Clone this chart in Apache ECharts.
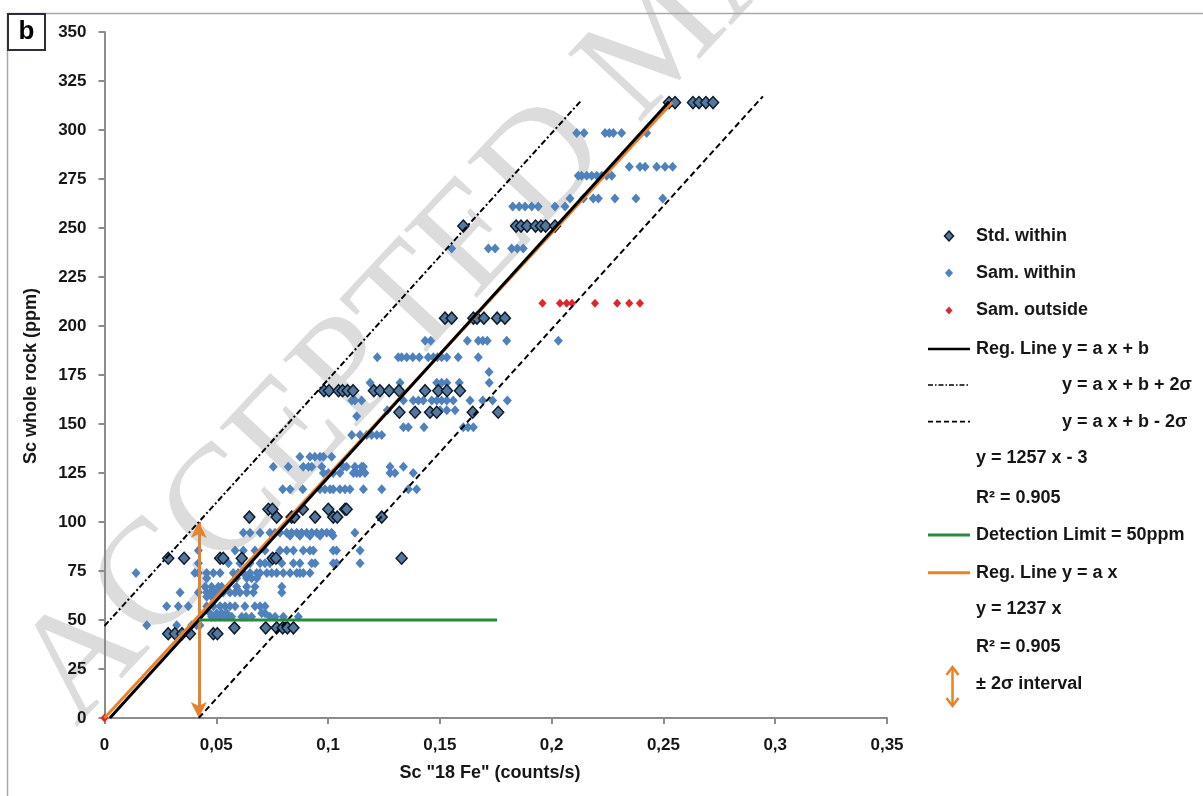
<!DOCTYPE html>
<html>
<head>
<meta charset="utf-8">
<script src="https://cdn.jsdelivr.net/npm/echarts@6/dist/echarts.min.js"></script>
<style>
  html, body { margin: 0; padding: 0; background: #ffffff; }
  #chart { width: 1203px; height: 796px; }
</style>
</head>
<body>
<div id="chart"></div>
<script>
// ---- calibration values (Sc whole rock vs Sc "18 Fe" counts) ----
const xTickStep = 0.05;
const yTickStep = 25;

// Standards within the 2-sigma band: rows of [ppm, counts/s values]
const stdRows = [
  [314, [0.2525, 0.2552, 0.2632, 0.2659, 0.2690, 0.2722]],
  [251, [0.1605, 0.1841, 0.1863, 0.1890, 0.1928, 0.1952, 0.1973, 0.2015]],
  [204, [0.1523, 0.1553, 0.1650, 0.1666, 0.1697, 0.1756, 0.1791]],
  [167, [0.0982, 0.1004, 0.1047, 0.1065, 0.1087, 0.1112, 0.1205, 0.1232, 0.1273, 0.1317, 0.1434, 0.1493, 0.1532, 0.1590]],
  [156, [0.1319, 0.1389, 0.1456, 0.1486, 0.1647, 0.1761]],
  [106.5, [0.0733, 0.0751, 0.0887, 0.1001, 0.1076, 0.1083]],
  [102.5, [0.0648, 0.0770, 0.0837, 0.0849, 0.0942, 0.1023, 0.1041, 0.1240]],
  [81.5, [0.0285, 0.0356, 0.0517, 0.0531, 0.0614, 0.0752, 0.0767, 0.1329]],
  [46, [0.0581, 0.0721, 0.0770, 0.0797, 0.0818, 0.0845]],
  [43, [0.0285, 0.0315, 0.0347, 0.0382, 0.0487, 0.0505]]
];

// Samples within the band
const samRows = [
  [298.5, [0.2112, 0.2145, 0.2239, 0.2258, 0.2276, 0.2313, 0.2425]],
  [281.3, [0.2347, 0.2395, 0.2418, 0.2470, 0.2507, 0.2541]],
  [276.7, [0.2119, 0.2134, 0.2157, 0.2179, 0.2202, 0.2224, 0.2246, 0.2269]],
  [265, [0.2082, 0.2142, 0.2186, 0.2209, 0.2283, 0.2377, 0.2497]],
  [261, [0.1826, 0.1855, 0.1881, 0.1911, 0.1940, 0.2015, 0.2060]],
  [239.6, [0.1553, 0.1717, 0.1747, 0.1821, 0.1846, 0.1873]],
  [192.5, [0.1434, 0.1459, 0.1623, 0.1672, 0.1692, 0.1712, 0.1799, 0.2030]],
  [184, [0.1220, 0.1314, 0.1329, 0.1352, 0.1379, 0.1408, 0.1448, 0.1471, 0.1489, 0.1508, 0.1531, 0.1582, 0.1672]],
  [176.5, [0.1720]],
  [171, [0.1188, 0.1322, 0.1486, 0.1508, 0.1531, 0.1587, 0.1721]],
  [162, [0.1106, 0.1120, 0.1150, 0.1337, 0.1381, 0.1404, 0.1426, 0.1464, 0.1486, 0.1508, 0.1531, 0.1560, 0.1635, 0.1692, 0.1736, 0.1802]],
  [157, [0.1265, 0.1501, 0.1531, 0.1568]],
  [154, [0.1128]],
  [148.3, [0.1337, 0.1359, 0.1429, 0.1605, 0.1626, 0.1650]],
  [144.4, [0.1106, 0.1143, 0.1173, 0.1195, 0.1218, 0.1240]],
  [133.3, [0.0874, 0.0919, 0.0941, 0.0964, 0.0979, 0.1016]],
  [128.2, [0.0755, 0.0822, 0.0889, 0.0912, 0.0927, 0.0972, 0.1068, 0.1083, 0.1120, 0.1150, 0.1158, 0.1277, 0.1337]],
  [125, [0.0979, 0.1001, 0.1023, 0.1053, 0.1113, 0.1128, 0.1143, 0.1165, 0.1277, 0.1299, 0.1381]],
  [116.7, [0.0797, 0.0830, 0.0887, 0.0964, 0.0986, 0.1009, 0.1023, 0.1053, 0.1076, 0.1098, 0.1158, 0.1240, 0.1359, 0.1396]],
  [94.5, [0.0621, 0.0651, 0.0696, 0.0740, 0.0763, 0.0785, 0.0815, 0.0837, 0.0860, 0.0882, 0.0904, 0.0927, 0.0949, 0.0972, 0.0994, 0.1016, 0.1120]],
  [93, [0.0830, 0.0874, 0.0919, 0.0964, 0.1022]],
  [85.5, [0.0420, 0.0584, 0.0621, 0.0673, 0.0718, 0.0785, 0.0815, 0.0845, 0.0889, 0.0919, 0.0934, 0.1023, 0.1038, 0.1143]],
  [78.9, [0.0420, 0.0554, 0.0606, 0.0651, 0.0696, 0.0718, 0.0740, 0.0793, 0.0845, 0.0874, 0.0927, 0.0942, 0.1023, 0.1038, 0.1143]],
  [74, [0.0141, 0.0404, 0.0420, 0.0457, 0.0487, 0.0517, 0.0576, 0.0598, 0.0621, 0.0651, 0.0681, 0.0696, 0.0726, 0.0748, 0.0770, 0.0800, 0.0830, 0.0860, 0.0874, 0.0889, 0.0919]],
  [71.3, [0.0457, 0.0591, 0.0636, 0.0658, 0.0681]],
  [67, [0.0450, 0.0479, 0.0509, 0.0524, 0.0591, 0.0636, 0.0673, 0.0793]],
  [64, [0.0338, 0.0420, 0.0457, 0.0472, 0.0494, 0.0517, 0.0531, 0.0561, 0.0584, 0.0606, 0.0636, 0.0666, 0.0793]],
  [61.9, [0.0457, 0.0479, 0.0502]],
  [57, [0.0278, 0.0330, 0.0375, 0.0457, 0.0487, 0.0517, 0.0539, 0.0561, 0.0584, 0.0628, 0.0673, 0.0696, 0.0718]],
  [53.4, [0.0472, 0.0502, 0.0524, 0.0547, 0.0703, 0.0718]],
  [51.7, [0.0479, 0.0494, 0.0517, 0.0539, 0.0554, 0.0569, 0.0614, 0.0633, 0.0658, 0.0740, 0.0763, 0.0800, 0.0867]],
  [47.3, [0.0189, 0.0323, 0.0390, 0.0412, 0.0427]]
];

// Samples outside the band
const outRows = [
  [211.6, [0.1959, 0.2037, 0.2067, 0.2091, 0.2194, 0.2293, 0.2347, 0.2395]],
  [0, [0]]
];

// Regression y = a x + b, its +/- 2 sigma band, the origin fit and the detection limit
const regA = 1257, regB = -3, twoSigma = 50;
const originA = 1237;
const detectionLimit = 50;
const regSpan = [0.0024, 0.2525];
const upperSpan = [0, 0.2135];
const lowerSpan = [0.0422, 0.2945];
const originSpan = [0, 0.254];
const detectionSpan = [0.0422, 0.1756];

const toPoints = rows => rows.flatMap(([y, xs]) => xs.map(x => [x, y]));
const linePts = (span, a, b) => span.map(x => [x, a * x + b]);
const intervalX = (detectionLimit - regB) / regA;

const FONT = '"Liberation Sans", Arial, Helvetica, sans-serif';
const TXT = '#161616';

// ---- legend built from plain shapes and text ----
const lgX = 976, lgMark = 949, lgL0 = 928, lgL1 = 970;
const rows = { std: 236, sam: 273, out: 310.5, reg: 349, up: 385, low: 421.7, eq1: 458.3, r1: 498.3,
               det: 535, org: 572.7, eq2: 609.3, r2: 646.7, arr: 684 };
const diamond = (cx, cy, w, h) => [[cx, cy - h / 2], [cx + w / 2, cy], [cx, cy + h / 2], [cx - w / 2, cy]];
const lgText = (x, y, t) => ({ type: 'text', x, y, z: 100,
  style: { text: t, fill: TXT, font: 'bold 18px ' + FONT, textVerticalAlign: 'middle', textAlign: 'left' } });
const lgLine = (y, color, width, dash) => ({ type: 'line', z: 100,
  shape: { x1: lgL0, y1: y, x2: lgL1, y2: y },
  style: { stroke: color, lineWidth: width, lineDash: dash || null } });

const legend = [
  { type: 'polygon', z: 100, shape: { points: diamond(lgMark, rows.std, 9, 10) }, style: { fill: '#56779d', stroke: '#0d1b2a', lineWidth: 1.5 } },
  lgText(lgX, rows.std, 'Std. within'),
  { type: 'polygon', z: 100, shape: { points: diamond(lgMark, rows.sam, 8, 9) }, style: { fill: '#4f81bd' } },
  lgText(lgX, rows.sam, 'Sam. within'),
  { type: 'polygon', z: 100, shape: { points: diamond(lgMark, rows.out, 7, 8) }, style: { fill: '#e0262c' } },
  lgText(lgX, rows.out, 'Sam. outside'),
  lgLine(rows.reg, '#000000', 2.5),
  lgText(lgX, rows.reg, 'Reg. Line y = a x + b'),
  lgLine(rows.up, '#000000', 1.6, [5, 2, 1.5, 2]),
  lgText(1062, rows.up, 'y = a x + b + 2σ'),
  lgLine(rows.low, '#000000', 1.8, [5, 3]),
  lgText(1062, rows.low, 'y = a x + b - 2σ'),
  lgText(lgX, rows.eq1, 'y = 1257 x - 3'),
  lgText(lgX, rows.r1, 'R² = 0.905'),
  lgLine(rows.det, '#2a8a3e', 3),
  lgText(lgX, rows.det, 'Detection Limit = 50ppm'),
  lgLine(rows.org, '#e8822a', 3),
  lgText(lgX, rows.org, 'Reg. Line y = a x'),
  lgText(lgX, rows.eq2, 'y = 1237 x'),
  lgText(lgX, rows.r2, 'R² = 0.905'),
  { type: 'line', z: 100, shape: { x1: 952.5, y1: 668, x2: 952.5, y2: 705 }, style: { stroke: '#e8822a', lineWidth: 2.5 } },
  { type: 'polyline', z: 100, shape: { points: [[946.5, 675], [952.5, 667], [958.5, 675]] }, style: { stroke: '#e8822a', lineWidth: 2.5, fill: null } },
  { type: 'polyline', z: 100, shape: { points: [[946.5, 698], [952.5, 706], [958.5, 698]] }, style: { stroke: '#e8822a', lineWidth: 2.5, fill: null } },
  lgText(lgX, rows.arr, '± 2σ interval')
];

const frame = [
  // faded manuscript stamp behind the plot
  { type: 'text', x: 47, y: 700, z: 0, rotation: 47 * Math.PI / 180,
    style: { text: 'ACCEPTED MANUSCRIPT', fill: '#dcdcdc', textAlign: 'left',
             font: 'normal 152px "Liberation Serif", "DejaVu Serif", serif', textVerticalAlign: 'middle' } },
  // page edges
  { type: 'line', z: 50, shape: { x1: 8, y1: 13.5, x2: 1203, y2: 13.5 }, style: { stroke: '#a8a8a8', lineWidth: 1.5 } },
  { type: 'line', z: 50, shape: { x1: 7.5, y1: 13, x2: 7.5, y2: 796 }, style: { stroke: '#a8a8a8', lineWidth: 1.5 } },
  // panel tag
  { type: 'rect', z: 60, shape: { x: 8, y: 14, width: 37, height: 36 }, style: { fill: '#ffffff', stroke: '#2b2f38', lineWidth: 2 } },
  { type: 'text', z: 61, x: 26.5, y: 32, style: { text: 'b', fill: '#000', font: 'bold 26px ' + FONT, textAlign: 'center', textVerticalAlign: 'middle' } },
  // axis titles
  { type: 'text', z: 60, x: 490, y: 773, style: { text: 'Sc "18 Fe" (counts/s)', fill: TXT, font: 'bold 18px ' + FONT, textAlign: 'center', textVerticalAlign: 'middle' } },
  { type: 'text', z: 60, x: 31, y: 376, rotation: Math.PI / 2, style: { text: 'Sc whole rock (ppm)', fill: TXT, font: 'bold 18px ' + FONT, textAlign: 'center', textVerticalAlign: 'middle' } }
];

const chart = echarts.init(document.getElementById('chart'), null, { renderer: 'canvas' });
const axisGrey = '#8c8c8c';

chart.setOption({
  animation: false,
  backgroundColor: '#ffffff',
  grid: { left: 104.5, right: 316, top: 32, bottom: 78, containLabel: false, outerBoundsMode: 'none' },
  xAxis: {
    type: 'value', min: 0, max: 0.35, interval: xTickStep,
    axisLine: { show: true, onZero: false, lineStyle: { color: axisGrey, width: 2 } },
    axisTick: { show: true, length: 6, lineStyle: { color: axisGrey, width: 2 } },
    splitLine: { show: false },
    axisLabel: { margin: 19, color: TXT, fontFamily: FONT, fontWeight: 'bold', fontSize: 17,
      formatter: v => String(+v.toFixed(2)).replace('.', ',') }
  },
  yAxis: {
    type: 'value', min: 0, max: 350, interval: yTickStep,
    axisLine: { show: true, onZero: false, lineStyle: { color: axisGrey, width: 2 } },
    axisTick: { show: true, length: 6, lineStyle: { color: axisGrey, width: 2 } },
    splitLine: { show: false },
    axisLabel: { margin: 18, color: TXT, fontFamily: FONT, fontWeight: 'bold', fontSize: 17 }
  },
  graphic: frame.concat(legend),
  series: [
    { name: 'Sam. within', type: 'scatter', z: 3, symbol: 'diamond', symbolSize: [9, 10],
      itemStyle: { color: '#4f81bd', opacity: 1 }, data: toPoints(samRows) },
    { name: 'Std. within', type: 'scatter', z: 4, symbol: 'diamond', symbolSize: [11, 12],
      itemStyle: { color: '#56779d', borderColor: '#0d1b2a', borderWidth: 1.5, opacity: 1 }, data: toPoints(stdRows) },
    { name: 'Sam. outside', type: 'scatter', z: 4, symbol: 'diamond', symbolSize: [8, 9],
      itemStyle: { color: '#e0262c', opacity: 1 }, data: toPoints(outRows) },
    { name: 'Reg. Line y = a x', type: 'line', z: 5, showSymbol: false, symbol: 'none',
      lineStyle: { color: '#e8822a', width: 3 }, data: linePts(originSpan, originA, 0) },
    { name: 'Reg. Line y = a x + b', type: 'line', z: 6, showSymbol: false, symbol: 'none',
      lineStyle: { color: '#000000', width: 3 }, data: linePts(regSpan, regA, regB) },
    { name: 'y = a x + b + 2σ', type: 'line', z: 6, showSymbol: false, symbol: 'none',
      lineStyle: { color: '#000000', width: 2, type: [6, 2.5, 2, 2.5] }, data: linePts(upperSpan, regA, regB + twoSigma) },
    { name: 'y = a x + b - 2σ', type: 'line', z: 6, showSymbol: false, symbol: 'none',
      lineStyle: { color: '#000000', width: 2, type: [6, 3.5] }, data: linePts(lowerSpan, regA, regB - twoSigma) },
    { name: 'Detection Limit = 50ppm', type: 'line', z: 6, showSymbol: false, symbol: 'none',
      lineStyle: { color: '#2a8a3e', width: 3 }, data: detectionSpan.map(x => [x, detectionLimit]) },
    { name: '± 2σ interval', type: 'line', z: 7, data: [], silent: true,
      markLine: { silent: true, symbol: ['arrow', 'arrow'], symbolSize: [12, 16], label: { show: false },
        lineStyle: { color: '#e8822a', width: 3, type: 'solid' },
        data: [[{ coord: [intervalX, detectionLimit - twoSigma] }, { coord: [intervalX, detectionLimit + twoSigma] }]] } }
  ]
});
</script>
</body>
</html>
